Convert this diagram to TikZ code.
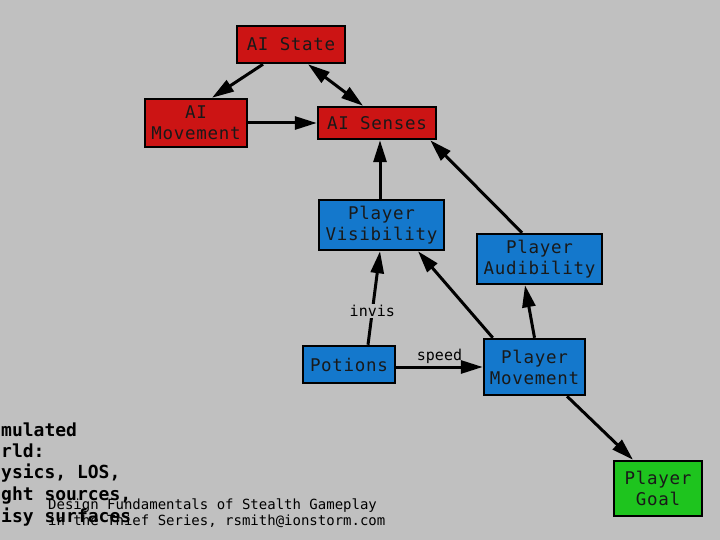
\documentclass[tikz,border=0pt]{standalone}
\usepackage{fontspec}
\newfontfamily\monof{DejaVu Sans Mono}
\newfontfamily\monobox[LetterSpace=4]{DejaVu Sans Mono}
\usetikzlibrary{arrows.meta,calc}
\definecolor{bggray}{RGB}{192,192,192}
\definecolor{boxred}{RGB}{204,20,20}
\definecolor{boxblue}{RGB}{20,120,204}
\definecolor{boxgreen}{RGB}{30,196,30}
\begin{document}
\begin{tikzpicture}[x=1pt,y=-1pt,
  box/.style={draw=black,line width=2.5pt,rectangle,inner sep=0pt,align=center,
    font=\monobox\fontsize{17.5}{21}\selectfont,text=black!90},
  redbox/.style={box,fill=boxred},
  bluebox/.style={box,fill=boxblue},
  greenbox/.style={box,fill=boxgreen},
  conn/.style={line width=3pt,-{Triangle[length=22pt,width=13pt]}},
  dconn/.style={line width=3pt,{Triangle[length=22pt,width=13pt]}-{Triangle[length=22pt,width=13pt]}},
  lbl/.style={font=\monof\fontsize{15}{18}\selectfont,inner sep=1pt},
  side/.style={font=\monof\bfseries\fontsize{18}{21}\selectfont,anchor=base west,inner sep=0pt},
  foot/.style={font=\monof\fontsize{14}{16}\selectfont,anchor=base west,inner sep=0pt}
]
\fill[bggray] (0,0) rectangle (720,540);
\useasboundingbox (0,0) rectangle (720,540);

\node[redbox,minimum width=108pt,minimum height=37pt] (aistate) at (291,44.5) {AI State};
\node[redbox,minimum width=102pt,minimum height=48pt] (aimove) at (196,123) {AI\\Movement};
\node[redbox,minimum width=118pt,minimum height=32pt] (aisenses) at (377,123) {AI Senses};
\node[bluebox,minimum width=125pt,minimum height=50pt] (vis) at (381.5,225) {Player\\Visibility};
\node[bluebox,minimum width=125pt,minimum height=50pt] (aud) at (539.5,259) {Player\\Audibility};
\node[bluebox,minimum width=92pt,minimum height=37pt] (potions) at (349,364.5) {Potions};
\node[bluebox,minimum width=101pt,minimum height=56pt] (move) at (534.5,367) {Player\\Movement};
\node[greenbox,minimum width=88pt,minimum height=55pt] (goal) at (658,488.5) {Player\\Goal};

\draw[conn] ($(aistate.south)+(-28,0)$) -- ($(aimove.north)+(16,0)$);
\draw[dconn] ($(aistate.south)+(17,0)$) -- ($(aisenses.north)+(-14,0)$);
\draw[conn] (aimove.east) -- (aisenses.west);
\draw[conn] ($(vis.north)+(-1.5,0)$) -- ($(aisenses.south)+(3,0)$);
\draw[conn] ($(aud.north)+(-17.5,0)$) -- ($(aisenses.south east)+(-7,0)$);
\draw[conn] ($(potions.north)+(19,0)$) -- node[lbl,fill=bggray,pos=0.36] (invis) {invis} ($(vis.south)+(-1.5,0)$);
\draw[conn] (potions.east |- move.west) -- node[lbl,above=1pt] (speed) {speed} (move.west);
\draw[conn] ($(move.north west)+(10,0)$) -- ($(vis.south)+(36.5,0)$);
\draw[conn] (move.north) -- ($(aud.south)+(-14.5,0)$);
\draw[conn] ($(move.south)+(32.5,0)$) -- ($(goal.north)+(-25,0)$);

\node[side] (s1) at (1,436) {mulated};
\node[side] (s2) at (1,457) {rld:};
\node[side] (s3) at (1,478) {ysics, LOS,};
\node[side] (s4) at (1,500) {ght sources,};
\node[side] (s5) at (1,522) {isy surfaces};

\node[foot] (f1) at (48,509) {Design Fundamentals of Stealth Gameplay};
\node[foot] (f2) at (48,525) {in the Thief Series, rsmith@ionstorm.com};
\end{tikzpicture}
\end{document}
